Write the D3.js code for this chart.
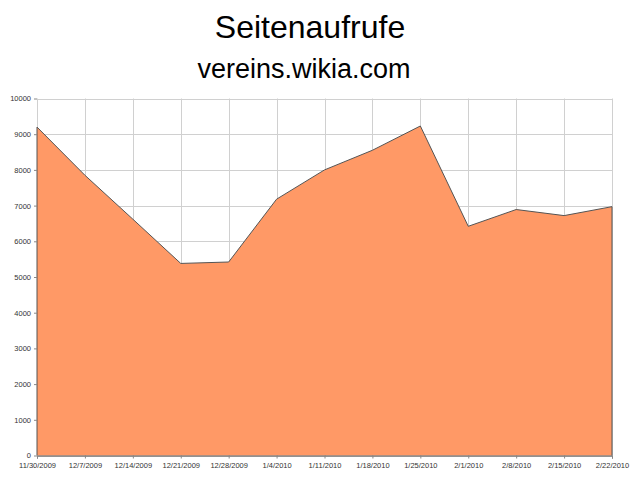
<!DOCTYPE html>
<html><head><meta charset="utf-8">
<script src="https://cdn.jsdelivr.net/npm/d3@7"></script>
<style>body{margin:0;background:#fff}svg{display:block}</style>
</head><body>
<svg id="c" width="640" height="480"></svg>
<script>
const title = "Seitenaufrufe";
const subtitle = "vereins.wikia.com";
const dates = ["11/30/2009","12/7/2009","12/14/2009","12/21/2009","12/28/2009","1/4/2010","1/11/2010","1/18/2010","1/25/2010","2/1/2010","2/8/2010","2/15/2010","2/22/2010"];
const views = [9200, 7850, 6620, 5380, 5420, 7180, 8000, 8550, 9230, 6420, 6890, 6720, 6970];
const yTicks = [0,1000,2000,3000,4000,5000,6000,7000,8000,9000,10000];

const svg = d3.select("#c");
const L = 37, R = 612, T = 98.5, B = 455.5;
const x = d3.scalePoint().domain(dates).range([L, R]);
const y = d3.scaleLinear().domain([0, 10000]).range([B, T]);

svg.append("text").attr("x", 310).attr("y", 38).attr("text-anchor", "middle")
  .attr("font-family", "Arial, 'Liberation Sans', sans-serif").attr("font-size", 32).text(title);
svg.append("text").attr("x", 304).attr("y", 78).attr("text-anchor", "middle")
  .attr("font-family", "Arial, 'Liberation Sans', sans-serif").attr("font-size", 27).text(subtitle);

// grid
const g = svg.append("g");
g.selectAll("line.h").data(yTicks).enter().append("line")
  .attr("x1", L).attr("x2", R).attr("y1", d => Math.round(y(d)) + 0.5).attr("y2", d => Math.round(y(d)) + 0.5)
  .attr("stroke", "#d0d0d0").attr("stroke-width", 1);
g.selectAll("line.v").data(dates).enter().append("line")
  .attr("y1", T).attr("y2", B).attr("x1", d => Math.round(x(d)) + 0.5).attr("x2", d => Math.round(x(d)) + 0.5)
  .attr("stroke", "#d0d0d0").attr("stroke-width", 1);

// area
const area = d3.area().x((d, i) => x(dates[i])).y0(B).y1(d => y(d));
svg.append("path").datum(views).attr("d", area).attr("fill", "#FF9966").attr("stroke", "none");
const line = d3.line().x((d, i) => x(dates[i])).y(d => y(d));
svg.append("path").datum(views).attr("d", line).attr("fill", "none").attr("stroke", "#555").attr("stroke-width", 1);
svg.append("line").attr("x1", L).attr("x2", L).attr("y1", y(views[0])).attr("y2", B).attr("stroke", "#555");
svg.append("line").attr("x1", R).attr("x2", R).attr("y1", y(views[views.length-1])).attr("y2", B).attr("stroke", "#555");

// axes
const xa = svg.append("g").attr("transform", `translate(0,${B})`)
  .call(d3.axisBottom(x).tickSize(3).tickPadding(4));
xa.select(".domain").attr("stroke", "#555");
xa.selectAll(".tick line").attr("stroke", "#888");
xa.selectAll("text").attr("font-family", "Arial, 'Liberation Sans', sans-serif").attr("font-size", 7.5).attr("fill", "#333");

const ya = svg.append("g").attr("transform", `translate(${L},0)`)
  .call(d3.axisLeft(y).tickValues(yTicks).tickFormat(d3.format("d")).tickSize(3).tickPadding(3));
ya.select(".domain").remove();
ya.selectAll(".tick line").attr("stroke", "#888");
ya.selectAll("text").attr("font-family", "Arial, 'Liberation Sans', sans-serif").attr("font-size", 7.5).attr("fill", "#333");
</script>
</body></html>
